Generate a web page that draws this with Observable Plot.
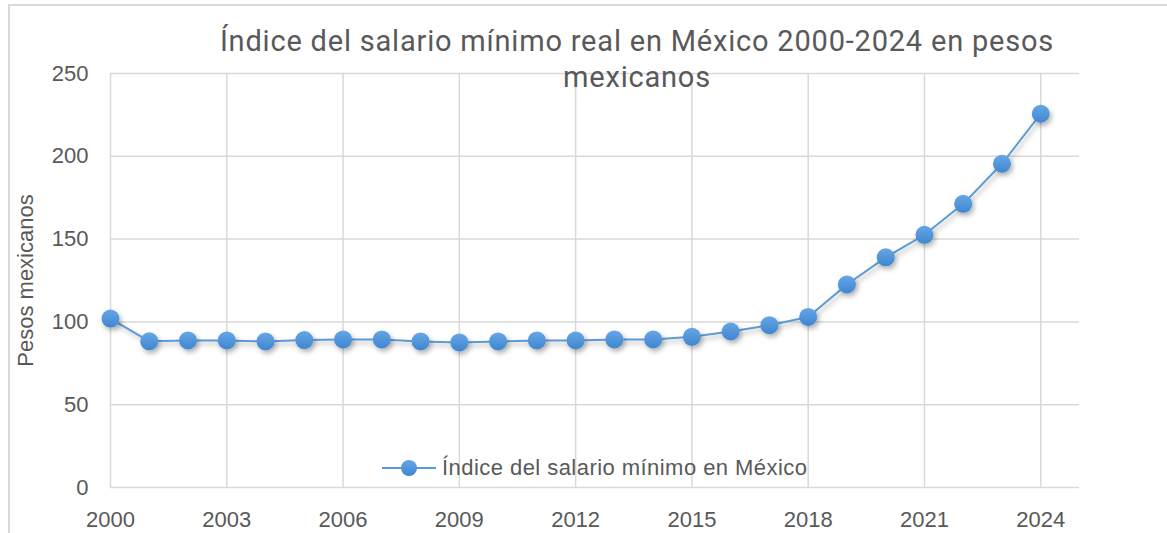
<!DOCTYPE html>
<html>
<head>
<meta charset="utf-8">
<script src="https://cdn.jsdelivr.net/npm/d3@7"></script>
<script src="https://cdn.jsdelivr.net/npm/@observablehq/plot@0.6"></script>
<style>
  html, body { margin: 0; padding: 0; background: #fff; }
  #wrap { position: relative; width: 1167px; height: 533px; overflow: hidden; font-family: "Liberation Sans", Arial, sans-serif; }
  #border { position: absolute; left: 8px; top: 4px; width: 1200px; height: 600px; border: 2px solid #d9d9d9; box-sizing: border-box; }
  #title { position: absolute; left: 0; width: 1274px; top: 23px; text-align: center; font-family: Roboto, "Open Sans", sans-serif; font-size: 29px; letter-spacing: 0.8px; line-height: 36px; color: #595959; z-index: 3; }
  #legend { position: absolute; left: 382px; top: 455px; display: flex; align-items: center; font-size: 22px; letter-spacing: 0.45px; color: #595959; z-index: 3; }
  #legend span { margin-left: 6px; }
  #chart { position: absolute; left: 0; top: 0; z-index: 2; }
  #chart svg g[aria-label="y-axis label"] text { font-size: 22px; }
</style>
</head>
<body>
<div id="wrap">
  <div id="border"></div>
  <div id="chart"></div>
  <div id="title">Índice del salario mínimo real en México 2000-2024 en pesos<br>mexicanos</div>
  <div id="legend">
    <svg width="54" height="22"><defs><linearGradient id="dotgrad2" x1="0" y1="0" x2="0" y2="1"><stop offset="0" stop-color="#66a6e6"/><stop offset="1" stop-color="#3f86d0"/></linearGradient></defs><line x1="0" y1="11" x2="54" y2="11" stroke="#5b9bd5" stroke-width="2"/><circle cx="27" cy="11" r="8" fill="url(#dotgrad2)"/></svg>
    <span>Índice del salario mínimo en México</span>
  </div>
</div>
<script>
const years = [2000,2001,2002,2003,2004,2005,2006,2007,2008,2009,2010,2011,2012,2013,2014,2015,2016,2017,2018,2019,2020,2021,2022,2023,2024];
const values = [102,88.3,88.8,88.8,88.2,89,89.4,89.4,88.2,87.6,88.2,88.8,88.8,89.4,89.4,91,94.2,98,103,122.6,139,152.6,171.3,195.5,225.7];
const xTicks = [2000,2003,2006,2009,2012,2015,2018,2021,2024];
const yTicks = [0,50,100,150,200,250];
const seriesName = "Índice del salario mínimo en México";

const data = years.map((y, i) => ({year: y, value: values[i]}));

const chart = Plot.plot({
  width: 1167,
  height: 533,
  marginLeft: 110,
  marginRight: 88,
  marginTop: 73,
  marginBottom: 46,
  style: {fontFamily: "'Liberation Sans', Arial, sans-serif", fontSize: "22px", color: "#595959", background: "transparent", overflow: "visible"},
  x: {domain: [2000, 2025], ticks: xTicks, tickFormat: d => String(d), tickSize: 0, tickPadding: 24, label: null},
  y: {domain: [0, 250], ticks: yTicks, tickSize: 0, tickPadding: 22, label: "Pesos mexicanos", labelAnchor: "center", labelOffset: 93, labelArrow: "none"},
  marks: [
    Plot.ruleY(yTicks, {x1: 2000, x2: 2025, stroke: "#d9d9d9", strokeWidth: 1.5, strokeOpacity: 1}),
    Plot.ruleX(xTicks, {y1: 0, y2: 250, stroke: "#d9d9d9", strokeWidth: 1.5, strokeOpacity: 1}),
    Plot.line(data, {x: "year", y: "value", stroke: "#5b9bd5", strokeWidth: 2}),
    Plot.dot(data, {x: "year", y: "value", r: 9, fill: "url(#dotgrad)", stroke: "none", title: d => `${seriesName}: ${d.year} – ${d.value}`})
  ]
});

const svg = d3.select(chart);
const defs = svg.insert("defs", ":first-child");
const g = defs.append("linearGradient").attr("id", "dotgrad").attr("x1", 0).attr("y1", 0).attr("x2", 0).attr("y2", 1);
g.append("stop").attr("offset", 0).attr("stop-color", "#66a6e6");
g.append("stop").attr("offset", 1).attr("stop-color", "#3f86d0");
const f = defs.append("filter").attr("id", "shadow").attr("filterUnits", "userSpaceOnUse").attr("x", 0).attr("y", 0).attr("width", 1167).attr("height", 533);
f.append("feDropShadow").attr("dx", 2).attr("dy", 3).attr("stdDeviation", 2.5).attr("flood-color", "#000").attr("flood-opacity", 0.3);
svg.selectAll("g[aria-label='line'], g[aria-label='dot']").attr("filter", "url(#shadow)");

document.getElementById("chart").appendChild(chart);
</script>
</body>
</html>
